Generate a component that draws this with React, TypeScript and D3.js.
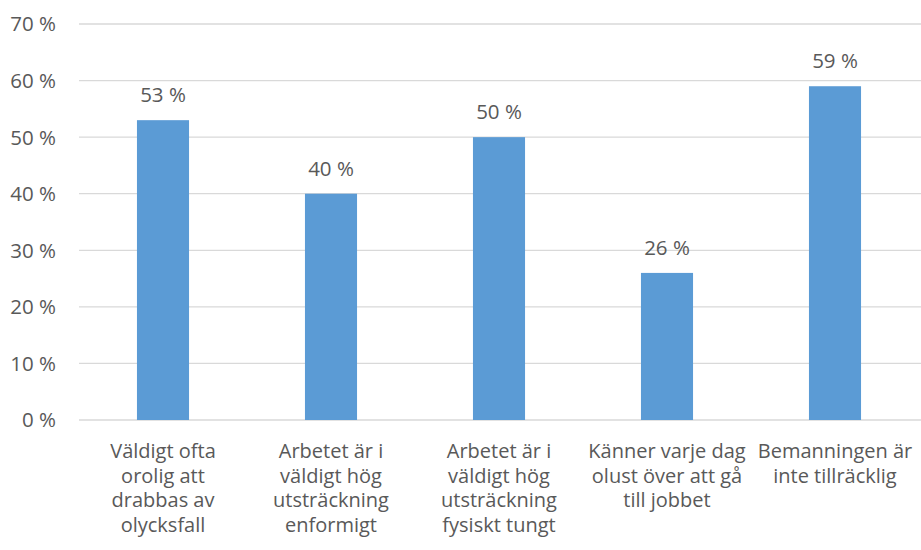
import React from 'react';
import {scaleBand, scaleLinear} from 'd3';

const categories = [
  ['Väldigt ofta', 'orolig att', 'drabbas av', 'olycksfall'],
  ['Arbetet är i', 'väldigt hög', 'utsträckning', 'enformigt'],
  ['Arbetet är i', 'väldigt hög', 'utsträckning', 'fysiskt tungt'],
  ['Känner varje dag', 'olust över att gå', 'till jobbet'],
  ['Bemanningen är', 'inte tillräcklig'],
];
const values = [53, 40, 50, 26, 59];
const yTicks = [0, 10, 20, 30, 40, 50, 60, 70];

const width = 921;
const height = 550;
const margin = {top: 24, right: 0, bottom: 130, left: 79};
const innerWidth = width - margin.left - margin.right;
const innerHeight = height - margin.top - margin.bottom;
const font = '"Open Sans", sans-serif';
const textColor = '#595959';

export default function App() {
  const xScale = scaleBand<number>()
    .domain(values.map((_, i) => i))
    .range([0, innerWidth - 2])
    .paddingInner(0.69)
    .paddingOuter(0.345);

  const yScale = scaleLinear().domain([0, 70]).range([innerHeight, 0]);
  const mid = (i: number) => (xScale(i) ?? 0) + xScale.bandwidth() / 2;

  return (
    <svg
      width={width}
      height={height}
      style={{position: 'absolute', left: 0, top: 0, background: 'white'}}
      fontFamily={font}
    >
      <g transform={`translate(${margin.left}, ${margin.top})`}>
        {yTicks.map((t) => (
          <g key={t} transform={`translate(0, ${yScale(t)})`}>
            <line x1={0} x2={innerWidth} stroke="#d9d9d9" strokeWidth={1.3} />
            <text x={-23} dy="0.36em" textAnchor="end" fill={textColor} fontSize={20.5}>
              {`${t} %`}
            </text>
          </g>
        ))}
        {values.map((v, i) => (
          <g key={i}>
            <rect
              x={xScale(i)}
              y={yScale(v)}
              width={xScale.bandwidth()}
              height={innerHeight - yScale(v)}
              fill="#5b9bd5"
            />
            <text
              x={mid(i)}
              y={yScale(v) - 18}
              textAnchor="middle"
              fill={textColor}
              fontSize={20.5}
            >{`${v} %`}</text>
          </g>
        ))}
        {categories.map((lines, i) => (
          <text
            key={i}
            x={mid(i)}
            y={innerHeight + 38}
            textAnchor="middle"
            fill={textColor}
            fontSize={20}
          >
            {lines.map((l, j) => (
              <tspan key={j} x={mid(i)} dy={j === 0 ? 0 : 24.5}>
                {l}
              </tspan>
            ))}
          </text>
        ))}
      </g>
    </svg>
  );
}
